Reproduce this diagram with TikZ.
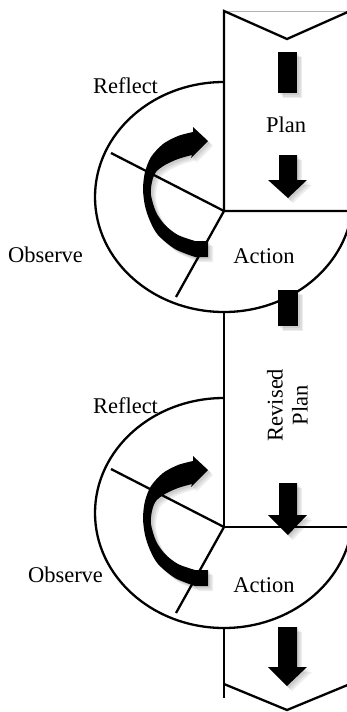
\documentclass[tikz,border=0pt]{standalone}
\usepackage{fontspec}
\setmainfont{Liberation Serif}
\begin{document}
\begin{tikzpicture}[x=1pt,y=-1pt,
  ln/.style={line width=2.3pt, line join=miter},
  lbl/.style={font=\fontsize{22.5}{25}\selectfont, inner sep=0pt},
  blk/.style={fill=black},
  shd/.style={fill=black, opacity=0.07}]
\useasboundingbox (0,0) rectangle (347,712);
\clip (0,0) rectangle (347,712);

% soft shadows of the black shapes
\foreach \s in {2,3.5,5}{
\begin{scope}[shift={(\s,\s)}]
\fill[shd] (278,52) rectangle (297,93);
\fill[shd] (279,155) -- (297,155) -- (297,180) -- (307,180) -- (288,198) -- (268,180) -- (279,180) -- cycle;
\fill[shd] (278,290) rectangle (298,326);
\fill[shd] (279,483) -- (297,483) -- (297,515) -- (307,515) -- (288,535) -- (268,515) -- (279,515) -- cycle;
\fill[shd] (278,627) -- (297,627) -- (297,667) -- (307,667) -- (287,686) -- (268,667) -- (278,667) -- cycle;
\end{scope}
}

% top box
\draw[gray!60, line width=0.8pt] (224,11) -- (350,11);
\draw[ln] (350,11) -- (287,39) -- (224,11) -- (224,211) -- (356,211);
% cycle 1
\draw[ln] (224,82) arc[start angle=90, end angle=353, x radius=129pt, y radius=115pt];
\coordinate (c1) at (224,211);
\coordinate (r1) at (111,153);
\coordinate (o1) at (176,297);
\draw[ln] (c1) -- (r1);
\draw[ln] (c1) -- (o1);
% link to second box
\draw[ln] (224,312) -- (224,527) -- (356,527);
% cycle 2
\draw[ln] (224,398) arc[start angle=90, end angle=353, x radius=129pt, y radius=115pt];
\coordinate (c2) at (224,527);
\coordinate (r2) at (111,469);
\coordinate (o2) at (176,613);
\draw[ln] (c2) -- (r2);
\draw[ln] (c2) -- (o2);
% bottom box
\draw[ln] (224,628) -- (224,698);
\draw[ln] (224,684) -- (287,710) -- (350,684);

% block bars and arrows
\fill[blk] (278,52) rectangle (297,93);
\fill[blk] (279,155) -- (297,155) -- (297,180) -- (307,180) -- (288,198) -- (268,180) -- (279,180) -- cycle;
\fill[blk] (278,290) rectangle (298,326);
\fill[blk] (279,483) -- (297,483) -- (297,515) -- (307,515) -- (288,535) -- (268,515) -- (279,515) -- cycle;
\fill[blk] (278,627) -- (297,627) -- (297,667) -- (307,667) -- (287,686) -- (268,667) -- (278,667) -- cycle;

% curved arrows
\foreach \dy in {0,329}{
\begin{scope}[shift={(0,\dy)}]
\foreach \s in {2,3.5,5}{
\fill[shd, shift={(\s,\s)}] plot[smooth] coordinates {(193,132) (178,136) (163,144) (151,157) (145,172) (143,189) (145,206) (150,221) (158,235) (175,249) (195,257)}
  -- (208,257) -- (208,241)
  -- plot[smooth] coordinates {(195,241) (178,235) (165,225) (156,212) (151,195) (152,182) (156,172) (165,165) (178,159) (192,155)}
  -- (191,158) -- (208,141) -- (193,127) -- cycle;
}
\fill[blk] plot[smooth] coordinates {(193,132) (178,136) (163,144) (151,157) (145,172) (143,189) (145,206) (150,221) (158,235) (175,249) (195,257)}
  -- (208,257) -- (208,241)
  -- plot[smooth] coordinates {(195,241) (178,235) (165,225) (156,212) (151,195) (152,182) (156,172) (165,165) (178,159) (192,155)}
  -- (191,158) -- (208,141) -- (193,127) -- cycle;
\end{scope}
}

% labels
\node[lbl, anchor=base] (reflect1) at (125.5,93) {Reflect};
\node[lbl, anchor=base] (observe1) at (45.5,262) {Observe};
\node[lbl, anchor=base] (plan) at (286,132) {Plan};
\node[lbl, anchor=base] (action1) at (264,263) {Action};
\node[lbl, anchor=base] (reflect2) at (125.5,413) {Reflect};
\node[lbl, anchor=base] (observe2) at (65.5,582) {Observe};
\node[lbl, align=center, rotate=90] (revised) at (287.5,405) {Revised\\Plan};
\node[lbl, anchor=base] (action2) at (264,592) {Action};
\end{tikzpicture}
\end{document}
